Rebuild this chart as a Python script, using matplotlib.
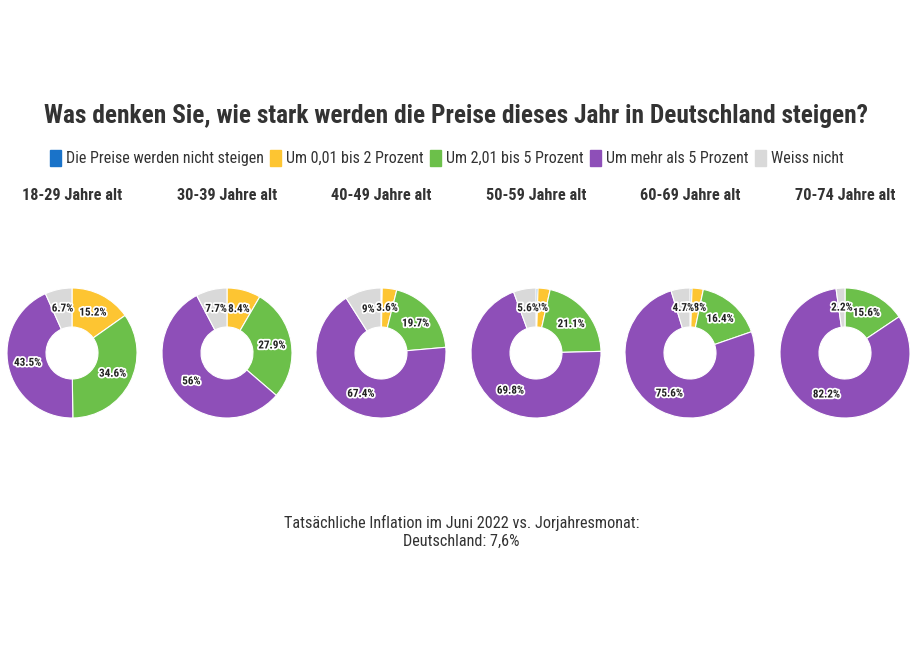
import matplotlib
matplotlib.use("Agg")
import matplotlib.pyplot as plt
import matplotlib.patheffects as pe
import matplotlib.patches as mpatches
import numpy as np

plt.rcParams['font.family'] = ['Roboto Condensed', 'DejaVu Sans']

title = "Was denken Sie, wie stark werden die Preise dieses Jahr in Deutschland steigen?"
categories = ["Die Preise werden nicht steigen", "Um 0,01 bis 2 Prozent",
              "Um 2,01 bis 5 Prozent", "Um mehr als 5 Prozent", "Weiss nicht"]
colors = ["#1a73c9", "#fdc532", "#6cc04a", "#8e4fb8", "#d9d9d9"]
groups = ["18-29 Jahre alt", "30-39 Jahre alt", "40-49 Jahre alt",
          "50-59 Jahre alt", "60-69 Jahre alt", "70-74 Jahre alt"]
nicht_steigen = [0.0, 0.0, 0.3, 0.5, 0.5, 0.0]
bis_2 = [15.2, 8.4, 3.6, 3.0, 2.8, 0.0]
bis_5 = [34.6, 27.9, 19.7, 21.1, 16.4, 15.6]
mehr_5 = [43.5, 56.0, 67.4, 69.8, 75.6, 82.2]
weiss_nicht = [6.7, 7.7, 9.0, 5.6, 4.7, 2.2]
footnote = "Tatsächliche Inflation im Juni 2022 vs. Jorjahresmonat:\nDeutschland: 7,6%"

W, H = 923, 661
fig = plt.figure(figsize=(W / 100, H / 100), dpi=100)

fig.text(0.494, 1 - 116 / H, title, ha="center", va="center",
         fontsize=18.3, fontweight="bold", color="#333333")

# legend
handles = [mpatches.FancyBboxPatch((0, 0), 1, 1, boxstyle="round,pad=0.1", color=c)
           for c in colors]
leg = fig.legend(handles, categories, loc="center", bbox_to_anchor=(0.484, 1 - 158 / H),
                 ncol=5, frameon=False, fontsize=11.5, handlelength=0.7, handleheight=1.2,
                 handletextpad=0.3, columnspacing=0.4, labelcolor="#333333")

centers = [72, 227, 381, 536, 690, 845]
cy = 353
R = 65
size = 146
lim = size / 2 / R

for i, g in enumerate(groups):
    vals = [nicht_steigen[i], bis_2[i], bis_5[i], mehr_5[i], weiss_nicht[i]]
    cx = centers[i]
    ax = fig.add_axes([(cx - size / 2) / W, 1 - (cy + size / 2) / H, size / W, size / H])
    wedges, _ = ax.pie(vals, colors=colors, startangle=90, counterclock=False,
                       radius=1.0, wedgeprops=dict(width=0.6, edgecolor="white", linewidth=0.8))
    ax.set_xlim(-lim, lim)
    ax.set_ylim(-lim, lim)
    ax.set_aspect("equal")
    ax.axis("off")
    for w, v in zip(wedges, vals):
        if v < 1:
            continue
        ang = np.deg2rad((w.theta1 + w.theta2) / 2)
        r = 0.7
        ax.text(r * np.cos(ang), r * np.sin(ang), f"{v:g}%", ha="center", va="center",
                fontsize=8, fontweight="bold", color="#222222",
                path_effects=[pe.withStroke(linewidth=2.5, foreground="white")])
    fig.text(cx / W, 1 - 195 / H, g, ha="center", va="center", fontsize=11.7,
             fontweight="bold", color="#333333")

fig.text(0.5, 1 - 532 / H, footnote, ha="center", va="center", fontsize=11.7,
         color="#333333", linespacing=1.2)

fig.savefig("out.png", dpi=100, facecolor="white")
